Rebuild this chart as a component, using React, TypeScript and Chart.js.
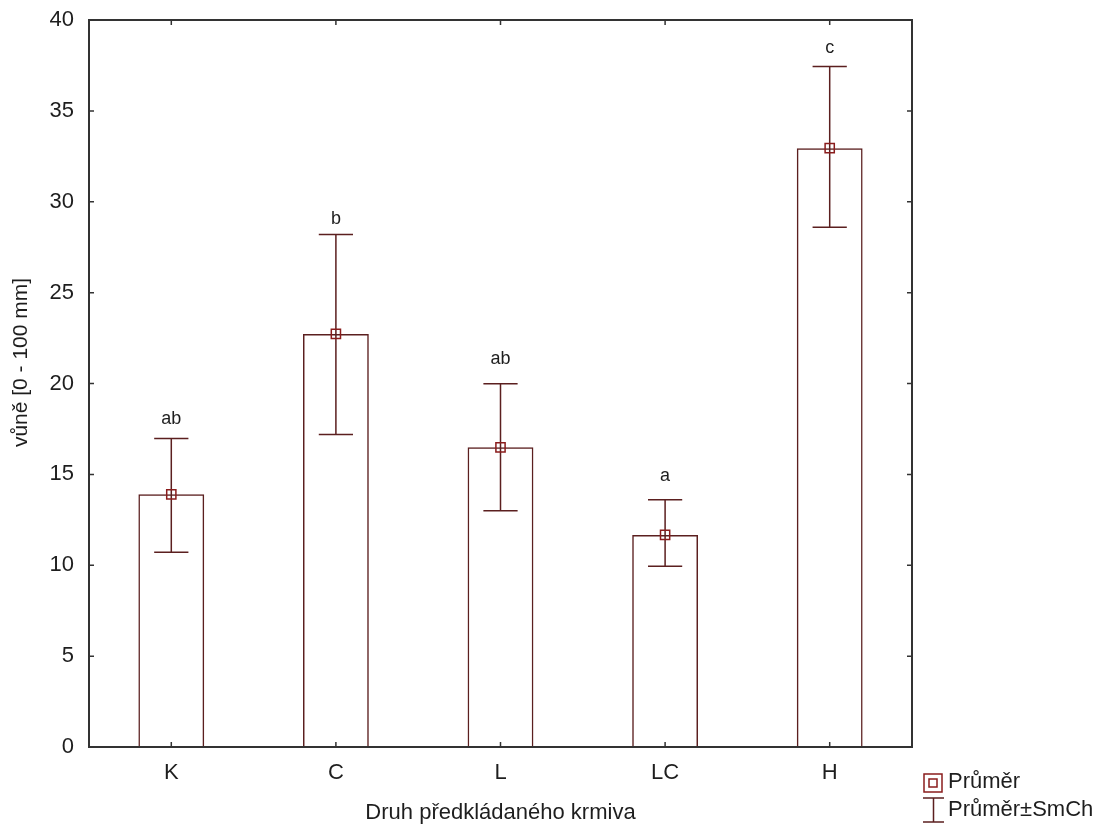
import React, { useEffect, useRef } from 'react';
import { Chart, registerables } from 'chart.js';

Chart.register(...registerables);

// ---- data ----
const categories = ['K', 'C', 'L', 'LC', 'H'];
const means = [13.9, 22.73, 16.49, 11.67, 32.95];
const upperSE = [16.98, 28.2, 19.98, 13.6, 37.44];
const lowerSE = [10.71, 17.2, 13.0, 9.95, 28.6];
const groupLetters = ['ab', 'b', 'ab', 'a', 'c'];
const letterLevels = [18.05, 29.05, 21.35, 14.9, 38.45];
const yMin = 0;
const yMax = 40;
const yStep = 5;
const yTitle = 'vůně [0 - 100 mm]';
const xTitle = 'Druh předkládaného krmiva';
const legendLabels = ['Průměr', 'Průměr±SmCh'];

const FONT = '"Liberation Sans", Arial, sans-serif';
const BAR_COLOR = '#5b1f1f';
const MARK_COLOR = '#8a1c1c';
const TEXT_COLOR = '#1e1e1e';
const FRAME_COLOR = '#333333';

const decorPlugin = {
  id: 'decor',
  afterDatasetDraw(chart: any, args: any) {
    if (args.index !== 0) return;
    const ctx = chart.ctx;
    const y = chart.scales.y;
    const meta = chart.getDatasetMeta(0);
    ctx.save();
    ctx.strokeStyle = BAR_COLOR;
    ctx.lineWidth = 1.5;
    meta.data.forEach((bar: any, i: number) => {
      const { x: cx, width } = bar.getProps(['x', 'width'], true);
      const cap = width * 0.26;
      const yt = y.getPixelForValue(upperSE[i]);
      const yb = y.getPixelForValue(lowerSE[i]);
      ctx.beginPath();
      ctx.moveTo(cx, yt);
      ctx.lineTo(cx, yb);
      ctx.moveTo(cx - cap, yt);
      ctx.lineTo(cx + cap, yt);
      ctx.moveTo(cx - cap, yb);
      ctx.lineTo(cx + cap, yb);
      ctx.stroke();
    });
    ctx.fillStyle = TEXT_COLOR;
    ctx.font = `18px ${FONT}`;
    ctx.textAlign = 'center';
    ctx.textBaseline = 'middle';
    meta.data.forEach((bar: any, i: number) => {
      ctx.fillText(groupLetters[i], bar.x, y.getPixelForValue(letterLevels[i]));
    });
    ctx.restore();
  },
  afterDraw(chart: any) {
    const ctx = chart.ctx;
    const { left, right, top, bottom } = chart.chartArea;
    const xs = chart.scales.x;
    const ys = chart.scales.y;
    ctx.save();
    // frame
    ctx.strokeStyle = FRAME_COLOR;
    ctx.lineWidth = 2;
    ctx.strokeRect(left, top, right - left, bottom - top);
    // inward ticks
    ctx.lineWidth = 1.5;
    ctx.beginPath();
    ys.ticks.forEach((t: any) => {
      const py = ys.getPixelForValue(t.value);
      ctx.moveTo(left, py);
      ctx.lineTo(left + 5, py);
      ctx.moveTo(right - 5, py);
      ctx.lineTo(right, py);
    });
    categories.forEach((_, i) => {
      const px = xs.getPixelForValue(i);
      ctx.moveTo(px, bottom);
      ctx.lineTo(px, bottom - 5);
      ctx.moveTo(px, top);
      ctx.lineTo(px, top + 5);
    });
    ctx.stroke();

    // y title
    ctx.fillStyle = TEXT_COLOR;
    ctx.font = `21px ${FONT}`;
    ctx.textAlign = 'center';
    ctx.textBaseline = 'middle';
    ctx.save();
    ctx.translate(21, (top + bottom) / 2 - 21);
    ctx.rotate(-Math.PI / 2);
    ctx.fillText(yTitle, 0, 0);
    ctx.restore();

    // legend
    const lx = right + 11;
    ctx.strokeStyle = MARK_COLOR;
    ctx.lineWidth = 1.5;
    ctx.strokeRect(lx + 1, 774, 18, 18);
    ctx.strokeRect(lx + 6, 779, 8, 8);
    ctx.strokeStyle = BAR_COLOR;
    ctx.beginPath();
    ctx.moveTo(lx, 798);
    ctx.lineTo(lx + 21, 798);
    ctx.moveTo(lx + 10.5, 798);
    ctx.lineTo(lx + 10.5, 822);
    ctx.moveTo(lx, 822);
    ctx.lineTo(lx + 21, 822);
    ctx.stroke();
    ctx.fillStyle = TEXT_COLOR;
    ctx.font = `22px ${FONT}`;
    ctx.textAlign = 'left';
    ctx.textBaseline = 'middle';
    ctx.fillText(legendLabels[0], lx + 25, 782);
    ctx.fillText(legendLabels[1], lx + 25, 810);
    ctx.restore();
  },
};

export default function App() {
  const canvasRef = useRef<HTMLCanvasElement | null>(null);

  useEffect(() => {
    if (!canvasRef.current) return;
    const chart = new Chart(canvasRef.current, {
      type: 'bar',
      data: {
        labels: categories,
        datasets: [
          {
            type: 'bar',
            label: 'bars',
            data: means,
            backgroundColor: 'rgba(255,255,255,0)',
            borderColor: BAR_COLOR,
            borderWidth: 1.5,
            barPercentage: 0.4,
            categoryPercentage: 1,
            order: 2,
          } as any,
          {
            type: 'line',
            label: legendLabels[0],
            data: means,
            showLine: false,
            pointStyle: 'rect',
            pointRadius: 6.5,
            pointHoverRadius: 6.5,
            pointBorderColor: MARK_COLOR,
            pointBackgroundColor: 'rgba(255,255,255,0)',
            pointBorderWidth: 1.5,
            borderColor: MARK_COLOR,
            order: 1,
          } as any,
        ],
      },
      options: {
        animation: false,
        responsive: false,
        maintainAspectRatio: false,
        layout: { padding: { top: 20, right: 198, left: 0, bottom: 0 } },
        plugins: {
          legend: { display: false },
          tooltip: { enabled: false },
        },
        scales: {
          x: {
            grid: { display: false, drawTicks: false },
            border: { display: false },
            ticks: {
              color: TEXT_COLOR,
              font: { family: FONT, size: 22 },
              padding: 13,
            },
            title: {
              display: true,
              text: xTitle,
              color: TEXT_COLOR,
              font: { family: FONT, size: 22 },
              padding: { top: 0, bottom: 0 },
            },
            afterFit: (scale: any) => {
              scale.height = 79;
            },
          },
          y: {
            min: yMin,
            max: yMax,
            grid: {
              display: true,
              drawOnChartArea: false,
              drawTicks: true,
              tickLength: 15,
              color: 'rgba(0,0,0,0)',
            },
            border: { display: false },
            ticks: {
              stepSize: yStep,
              color: TEXT_COLOR,
              font: { family: FONT, size: 22 },
              padding: 0,
            },
            afterFit: (scale: any) => {
              scale.width = 89;
            },
          },
        },
      },
      plugins: [decorPlugin],
    });
    return () => chart.destroy();
  }, []);

  return (
    <div
      style={{
        position: 'fixed',
        left: 0,
        top: 0,
        width: 1110,
        height: 826,
        background: '#ffffff',
      }}
    >
      <canvas ref={canvasRef} width={1110} height={826} style={{ display: 'block' }} />
    </div>
  );
}
